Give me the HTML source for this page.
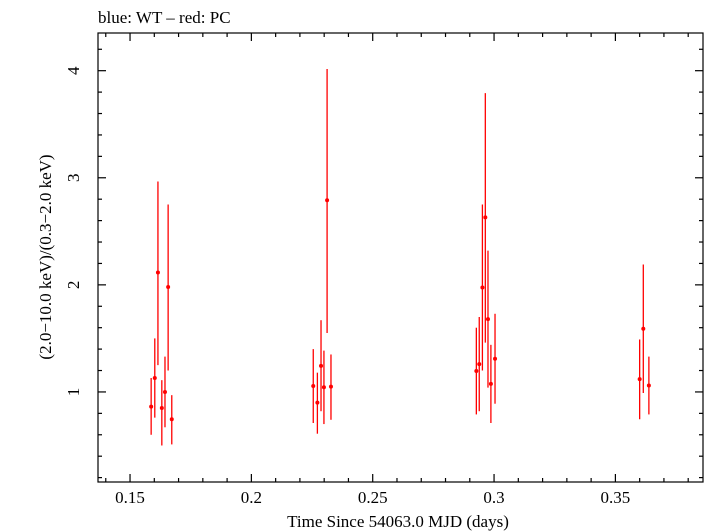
<!DOCTYPE html>
<html><head><meta charset="utf-8"><style>
html,body{margin:0;padding:0;background:#fff;}
svg{display:block;font-family:"Liberation Serif",serif;}
</style></head><body>
<svg id="chart" width="705" height="532" xmlns="http://www.w3.org/2000/svg">
<text x="98" y="23" font-size="17">blue: WT – red: PC</text>
<rect x="98" y="33" width="605" height="449" fill="none" stroke="#000" stroke-width="1.2"/>
<g id="ticks"></g>
<g id="marks"></g>
<text x="398" y="527" font-size="17" text-anchor="middle">Time Since 54063.0 MJD (days)</text>
<text transform="translate(51,257) rotate(-90)" font-size="17" text-anchor="middle">(2.0−10.0 keV)/(0.3−2.0 keV)</text>
</svg>
<script>
const times = [0.1587,0.1602,0.1615,0.1631,0.1644,0.1657,0.1672,
 0.2255,0.2272,0.2287,0.2299,0.2312,0.2328,
 0.2927,0.2939,0.2952,0.2964,0.2975,0.2987,0.3004,
 0.3600,0.3615,0.3638];
const ratios = [0.863,1.13,2.115,0.85,1.0,1.98,0.745,
 1.056,0.90,1.243,1.044,2.79,1.05,
 1.196,1.26,1.975,2.63,1.68,1.075,1.31,
 1.12,1.59,1.06];
const upper = [1.13,1.50,2.965,1.11,1.33,2.75,0.97,
 1.40,1.18,1.67,1.386,4.016,1.35,
 1.60,1.70,2.75,3.79,2.32,1.44,1.73,
 1.49,2.19,1.33];
const lower = [0.60,0.76,1.25,0.50,0.67,1.20,0.51,
 0.71,0.61,0.82,0.70,1.55,0.74,
 0.79,0.82,1.20,1.46,1.04,0.71,0.89,
 0.745,0.99,0.79];
const timeErr = [0.0004,0.0004,0.0004,0.0004,0.0004,0.0004,0.0004,
 0.0004,0.0004,0.0004,0.0004,0.0004,0.0004,
 0.0004,0.0004,0.0004,0.0004,0.0004,0.0004,0.0004,
 0.0004,0.0004,0.0006];
const xTickLabels = ["0.15","0.2","0.25","0.3","0.35"];
const yTickLabels = ["1","2","3","4"];

const L=98,R=703,T=33,B=482;
const xMin=0.1368,xMax=0.3861,yMin=0.159,yMax=4.352;
const xs=v=>L+(v-xMin)/(xMax-xMin)*(R-L);
const ys=v=>B-(v-yMin)/(yMax-yMin)*(B-T);
const NS="http://www.w3.org/2000/svg";
function mk(tag,attrs,parent){const e=document.createElementNS(NS,tag);for(const k in attrs)e.setAttribute(k,attrs[k]);parent.appendChild(e);return e;}
const tg=document.getElementById('ticks');
// x ticks
for(let i=14;i<=38;i++){
  const v=i/100; const x=xs(v); const major=(i%5===0); const len=major?8:4;
  const t1=mk('line',{x1:x,x2:x,y1:B,y2:B-len,stroke:'#000','stroke-width':1.2},tg);
  
  
  const t2=mk('line',{x1:x,x2:x,y1:T,y2:T+len,stroke:'#000','stroke-width':1.2},tg);
  
  
}
xTickLabels.forEach(s=>{
  const t=mk('text',{x:xs(parseFloat(s)),y:503,'font-size':17,'text-anchor':'middle'},tg);
  t.textContent=s;
  
  
});
// y ticks
for(let i=1;i<=21;i++){
  const v=i/5; const y=ys(v); const major=(i%5===0); const len=major?8:4;
  const t1=mk('line',{x1:L,x2:L+len,y1:y,y2:y,stroke:'#000','stroke-width':1.2},tg);
  
  
  const t2=mk('line',{x1:R,x2:R-len,y1:y,y2:y,stroke:'#000','stroke-width':1.2},tg);
  
  
}
yTickLabels.forEach(s=>{
  const y=ys(parseFloat(s));
  const t=mk('text',{x:0,y:0,'font-size':17,'text-anchor':'middle',transform:`translate(79,${y}) rotate(-90)`},tg);
  t.textContent=s;
  
  
});
// data
const mg=document.getElementById('marks');
times.forEach((tv,i)=>{
  const x=xs(tv);
  const g=mk('g',{},mg);
  
  
  mk('line',{x1:x,x2:x,y1:ys(upper[i]),y2:ys(lower[i]),stroke:'#f00','stroke-width':1.3},g);
  mk('line',{x1:xs(tv-timeErr[i]),x2:xs(tv+timeErr[i]),y1:ys(ratios[i]),y2:ys(ratios[i]),stroke:'#f00','stroke-width':1.3},g);
  mk('circle',{cx:x,cy:ys(ratios[i]),r:2,fill:'#f00'},g);
});
</script>
</body></html>
